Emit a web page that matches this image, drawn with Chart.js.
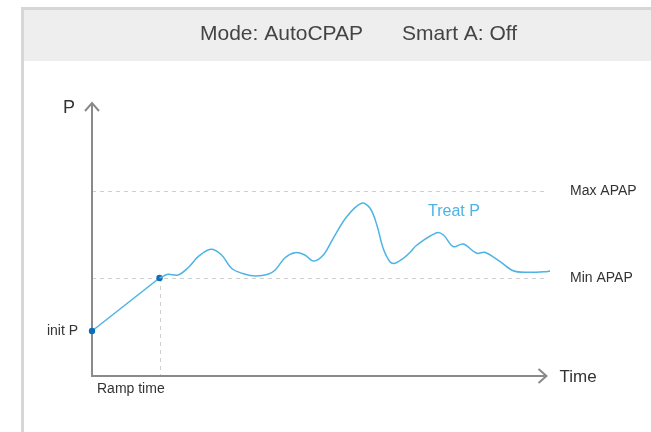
<!DOCTYPE html>
<html>
<head>
<meta charset="utf-8">
<script src="https://cdn.jsdelivr.net/npm/chart.js@4.4.1/dist/chart.umd.min.js"></script>
<style>
  html, body { margin: 0; padding: 0; background: #ffffff; }
  canvas { display: block; }
</style>
</head>
<body>
<canvas id="pressureChart" width="651" height="432"></canvas>
<script>
    // header texts
    const headerItems = ['Mode: AutoCPAP', 'Smart A: Off'];

    // ramp phase (time, pressure)
    const rampTimes = [0, 15];
    const rampPressures = [4.5, 9.8];

    // treatment pressure after ramp
    const treatTimes = [15, 16.9, 19.1, 21.3, 23.6, 26.4, 28.8, 31.0, 33.3, 36.2, 39.1, 40.7, 42.9, 45.1, 47.3, 49.2, 51.4, 53.6, 56.6, 59.9, 61.8, 63.3, 64.7, 66.2, 67.3, 69.2, 70.7, 72.2, 76.6, 78.1, 80.3, 82.5, 85.5, 87.3, 90.7, 93.6, 96.6, 101.0, 101.8];
    const treatPressures = [9.8, 10.17, 10.1, 10.8, 11.93, 12.67, 12.1, 10.77, 10.27, 10.0, 10.17, 10.6, 11.83, 12.33, 12.1, 11.5, 12.1, 13.77, 15.93, 17.27, 16.77, 15.1, 12.77, 11.43, 11.27, 11.77, 12.37, 13.1, 14.33, 14.1, 12.93, 13.2, 12.27, 12.37, 11.43, 10.53, 10.37, 10.43, 10.5];

    // reference levels and their labels
    const levelNames = ['init P', 'Min APAP', 'Max APAP'];
    const levelValues = [4.5, 9.8, 18.5];
    const rampTime = 15;
    const axisEnd = { x: 101, y: 27.3 };
    const axisTitles = ['P', 'Time', 'Ramp time', 'Treat P'];

    const FONT = '"Liberation Sans", Arial, sans-serif';
    const LINE_BLUE = '#4db3e4';
    const DOT_BLUE = '#0f6db5';

    const diagramPlugin = {
        id: 'diagram',
        beforeDraw(chart) {
            const ctx = chart.ctx;
            ctx.save();
            ctx.fillStyle = '#ffffff';
            ctx.fillRect(0, 0, chart.width, chart.height);
            // frame
            ctx.fillStyle = '#d6d6d6';
            ctx.fillRect(21, 7, chart.width - 21, 3);
            ctx.fillRect(21, 7, 3, chart.height - 7);
            // header band
            ctx.fillStyle = '#eeeeee';
            ctx.fillRect(24, 10, chart.width - 24, 51);
            ctx.fillStyle = '#444444';
            ctx.font = '21px ' + FONT;
            ctx.textBaseline = 'middle';
            ctx.textAlign = 'left';
            ctx.fillText(headerItems[0], 200, 34);
            ctx.fillText(headerItems[1], 402, 34);
            ctx.restore();
        },
        beforeDatasetsDraw(chart) {
            const ctx = chart.ctx;
            const xs = chart.scales.x, ys = chart.scales.y;
            const x0 = xs.getPixelForValue(0), y0 = ys.getPixelForValue(0);
            const xEnd = xs.getPixelForValue(axisEnd.x);
            const yEnd = ys.getPixelForValue(axisEnd.y);
            ctx.save();
            // dashed guides
            ctx.strokeStyle = '#cfcfcf';
            ctx.lineWidth = 1;
            ctx.setLineDash([4, 4]);
            [levelValues[1], levelValues[2]].forEach(v => {
                const y = Math.round(ys.getPixelForValue(v)) + 0.5;
                ctx.beginPath();
                ctx.moveTo(x0, y);
                ctx.lineTo(xEnd, y);
                ctx.stroke();
            });
            const rx = Math.round(xs.getPixelForValue(rampTime)) + 0.5;
            ctx.beginPath();
            ctx.moveTo(rx, ys.getPixelForValue(levelValues[1]));
            ctx.lineTo(rx, y0);
            ctx.stroke();
            ctx.setLineDash([]);
            // axes with arrows
            ctx.strokeStyle = '#8a8a8a';
            ctx.lineWidth = 2;
            ctx.beginPath();
            ctx.moveTo(x0, yEnd);
            ctx.lineTo(x0, y0);
            ctx.lineTo(xEnd, y0);
            ctx.stroke();
            ctx.beginPath();
            ctx.moveTo(x0 - 7, yEnd + 8);
            ctx.lineTo(x0, yEnd);
            ctx.lineTo(x0 + 7, yEnd + 8);
            ctx.stroke();
            ctx.beginPath();
            ctx.moveTo(xEnd - 8, y0 - 7);
            ctx.lineTo(xEnd, y0);
            ctx.lineTo(xEnd - 8, y0 + 7);
            ctx.stroke();
            ctx.restore();
        },
        afterDraw(chart) {
            const ctx = chart.ctx;
            const xs = chart.scales.x, ys = chart.scales.y;
            const x0 = xs.getPixelForValue(0), y0 = ys.getPixelForValue(0);
            const xEnd = xs.getPixelForValue(axisEnd.x);
            const yEnd = ys.getPixelForValue(axisEnd.y);
            ctx.save();
            ctx.textBaseline = 'middle';
            ctx.fillStyle = '#333333';
            ctx.font = '18px ' + FONT;
            ctx.textAlign = 'right';
            ctx.fillText(axisTitles[0], x0 - 17, yEnd + 5);
            ctx.font = '17px ' + FONT;
            ctx.textAlign = 'left';
            ctx.fillText(axisTitles[1], xEnd + 13, y0 + 1);
            ctx.font = '14px ' + FONT;
            ctx.fillText(axisTitles[2], x0 + 5, y0 + 13);
            ctx.textAlign = 'right';
            ctx.fillText(levelNames[0], x0 - 14, ys.getPixelForValue(levelValues[0]));
            ctx.textAlign = 'left';
            ctx.fillText(levelNames[1], 570, ys.getPixelForValue(levelValues[1]));
            ctx.fillText(levelNames[2], 570, ys.getPixelForValue(levelValues[2]));
            ctx.fillStyle = LINE_BLUE;
            ctx.font = '16px ' + FONT;
            ctx.fillText(axisTitles[3], 428, 212);
            ctx.restore();
        }
    };

    const ctx = document.getElementById('pressureChart').getContext('2d');
    window.pressureChart = new Chart(ctx, {
        type: 'line',
        data: {
            datasets: [{
                label: 'Treat P',
                data: treatTimes.map((t, i) => ({ x: t, y: treatPressures[i] })),
                borderColor: LINE_BLUE,
                borderWidth: 1.5,
                tension: 0.35,
                pointRadius: 0,
                clip: false
            }, {
                label: 'Ramp',
                data: rampTimes.map((t, i) => ({ x: t, y: rampPressures[i] })),
                borderColor: LINE_BLUE,
                borderWidth: 1.5,
                tension: 0,
                pointRadius: 3.2,
                pointBackgroundColor: DOT_BLUE,
                pointBorderColor: DOT_BLUE,
                pointBorderWidth: 0,
                clip: false
            }]
        },
        options: {
            responsive: false,
            animation: false,
            layout: { padding: { left: 92, right: 100, top: 105, bottom: 56 } },
            plugins: { legend: { display: false }, tooltip: { enabled: false } },
            scales: {
                x: { type: 'linear', min: 0, max: 102, display: false },
                y: { type: 'linear', min: 0, max: 27.1, display: false }
            }
        },
        plugins: [diagramPlugin]
    });
</script>
</body>
</html>
